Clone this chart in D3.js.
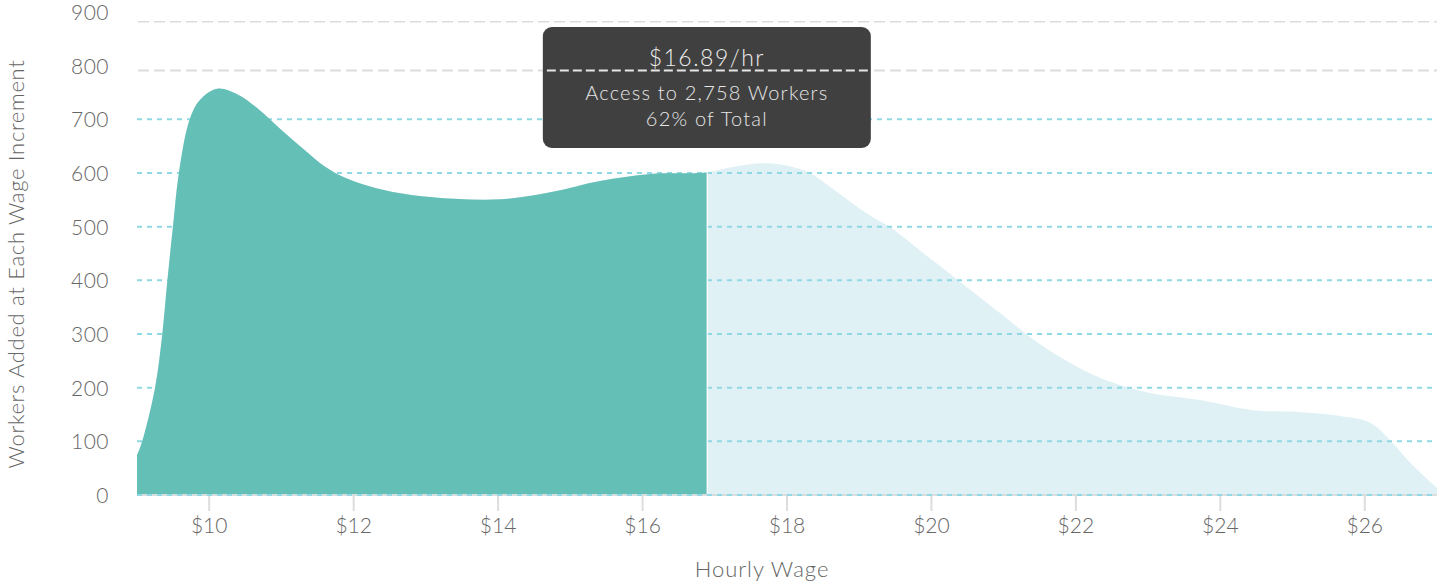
<!DOCTYPE html>
<html lang="en">
<head>
<meta charset="UTF-8">
<script src="https://d3js.org/d3.v7.min.js"></script>
<style>
  body { margin: 0; background: #fff; }
  svg text { font-family: Lato, "Open Sans", sans-serif; font-weight: 300; }
</style>
</head>
<body>
<div id="chart"></div>
<script>
// wage points (dollars/hr) and workers added at each increment
const wages = [9.00, 9.07, 9.25, 9.35, 9.42, 9.50, 9.58, 9.73, 9.87, 10.11, 10.40, 10.70, 11.00,
  11.30, 11.60, 11.90, 12.30, 12.80, 13.40, 14.03, 14.72, 15.41, 16.11, 16.88, 17.25, 17.63,
  17.91, 18.14, 18.32, 18.60, 18.88, 19.15, 19.43, 19.98, 20.40, 20.95, 21.37, 21.78, 22.34,
  23.03, 23.72, 24.46, 25.04, 25.66, 26.08, 26.35, 26.63, 27.00];
const workers = [74, 99, 200, 300, 399, 503, 600, 700, 736, 757, 746, 717, 680,
  645, 612, 590, 572, 559, 552, 551, 564, 585, 598, 601, 611, 618,
  616, 609, 600, 574, 546, 521, 499, 441, 397, 339, 294, 257, 218,
  190, 177, 158, 155, 147, 134, 102, 60, 13];

const yTicks = [0, 100, 200, 300, 400, 500, 600, 700, 800, 900];
const xTicks = [10, 12, 14, 16, 18, 20, 22, 24, 26];
const upperLines = [882, 791];   // grey dashed guides near the top

const cutoff = 16.89;
const tipLines = ["$16.89/hr", "Access to 2,758 Workers", "62% of Total"];

const width = 1441, height = 584;
const svg = d3.select("#chart").append("svg")
  .attr("width", width).attr("height", height);

const x = d3.scaleLinear().domain([9, 27]).range([137, 1437]);
const y = d3.scaleLinear().domain([0, 900]).range([495, 12]);

const data = wages.map((w, i) => ({ w: w, v: workers[i] }));

const area = d3.area()
  .x(d => x(d.w))
  .y0(y(0))
  .y1(d => y(d.v))
  .curve(d3.curveCatmullRom.alpha(0.5));

// full distribution, pale
svg.append("path")
  .datum(data)
  .attr("d", area)
  .attr("fill", "#dff1f5");

// grey guides at the top
svg.append("g").selectAll("line")
  .data(upperLines)
  .join("line")
  .attr("x1", x(9) + 1).attr("x2", x(27))
  .attr("y1", d => y(d)).attr("y2", d => y(d))
  .attr("stroke", "#dcdcdc")
  .attr("stroke-width", (d, i) => i === 0 ? 1.5 : 2)
  .attr("stroke-dasharray", "11,5");

// cyan gridlines
svg.append("g").selectAll("line")
  .data(yTicks.filter(d => d > 0 && d < 800))
  .join("line")
  .attr("x1", x(9)).attr("x2", x(27))
  .attr("y1", d => y(d)).attr("y2", d => y(d))
  .attr("stroke", "#90d9e4")
  .attr("stroke-width", 2)
  .attr("stroke-dasharray", "5,5");

// accessible part, teal
svg.append("clipPath").attr("id", "cut")
  .append("rect")
  .attr("x", x(9)).attr("y", 0)
  .attr("width", x(cutoff) - x(9)).attr("height", y(0));

svg.append("path")
  .datum(data)
  .attr("d", area)
  .attr("clip-path", "url(#cut)")
  .attr("fill", "#64bfb7");

svg.append("line")
  .attr("x1", x(cutoff) + 0.5).attr("x2", x(cutoff) + 0.5)
  .attr("y1", y(620)).attr("y2", y(0))
  .attr("stroke", "#fff").attr("stroke-width", 1.2);

// baseline
svg.append("line")
  .attr("x1", x(9)).attr("x2", x(27))
  .attr("y1", y(0)).attr("y2", y(0))
  .attr("stroke", "#dddddd").attr("stroke-width", 2);
svg.append("line")
  .attr("x1", x(9)).attr("x2", x(27))
  .attr("y1", y(0)).attr("y2", y(0))
  .attr("stroke", "#90d9e4").attr("stroke-width", 2)
  .attr("stroke-dasharray", "5,5");

// y axis labels
svg.append("g").selectAll("text")
  .data(yTicks)
  .join("text")
  .attr("x", 109)
  .attr("y", d => y(d) + 8)
  .attr("text-anchor", "end")
  .attr("font-size", "21px")
  .attr("letter-spacing", "0.5px")
  .attr("fill", "#666")
  .text(d => d);

// x axis ticks
const xg = svg.append("g").attr("transform", `translate(0,${y(0) + 1})`);
xg.selectAll("line")
  .data(xTicks)
  .join("line")
  .attr("x1", d => x(d)).attr("x2", d => x(d))
  .attr("y1", 0).attr("y2", 15)
  .attr("stroke", "#dddddd").attr("stroke-width", 2);
xg.selectAll("text")
  .data(xTicks)
  .join("text")
  .attr("x", d => x(d))
  .attr("y", 37)
  .attr("text-anchor", "middle")
  .attr("font-size", "21px")
  .attr("fill", "#666")
  .text(d => "$" + d);

// axis titles
svg.append("text")
  .attr("x", 762).attr("y", 577)
  .attr("text-anchor", "middle")
  .attr("font-size", "22px")
  .attr("letter-spacing", "1px")
  .attr("fill", "#666")
  .text("Hourly Wage");

svg.append("text")
  .attr("transform", "translate(24,264) rotate(-90)")
  .attr("text-anchor", "middle")
  .attr("font-size", "22px")
  .attr("letter-spacing", "0.7px")
  .attr("fill", "#666")
  .text("Workers Added at Each Wage Increment");

// tooltip
const cx = x(cutoff);
const tip = svg.append("g");
tip.append("rect")
  .attr("x", cx - 164).attr("y", 27)
  .attr("width", 328).attr("height", 121)
  .attr("rx", 9)
  .attr("fill", "#404040");
tip.append("line")
  .attr("x1", cx - 160).attr("x2", cx + 164)
  .attr("y1", y(upperLines[1])).attr("y2", y(upperLines[1]))
  .attr("stroke", "#e6e6e6").attr("stroke-width", 2)
  .attr("stroke-dasharray", "9,4");
tip.append("text")
  .attr("x", cx).attr("y", 66)
  .attr("text-anchor", "middle")
  .attr("font-size", "23px")
  .attr("letter-spacing", "1.5px")
  .attr("fill", "#eeeeee")
  .text(tipLines[0]);
tip.append("text")
  .attr("x", cx).attr("y", 100)
  .attr("text-anchor", "middle")
  .attr("font-size", "20px")
  .attr("letter-spacing", "1.2px")
  .attr("fill", "#e6e6e6")
  .text(tipLines[1]);
tip.append("text")
  .attr("x", cx).attr("y", 126)
  .attr("text-anchor", "middle")
  .attr("font-size", "20px")
  .attr("letter-spacing", "1.2px")
  .attr("fill", "#e6e6e6")
  .text(tipLines[2]);
</script>
</body>
</html>
